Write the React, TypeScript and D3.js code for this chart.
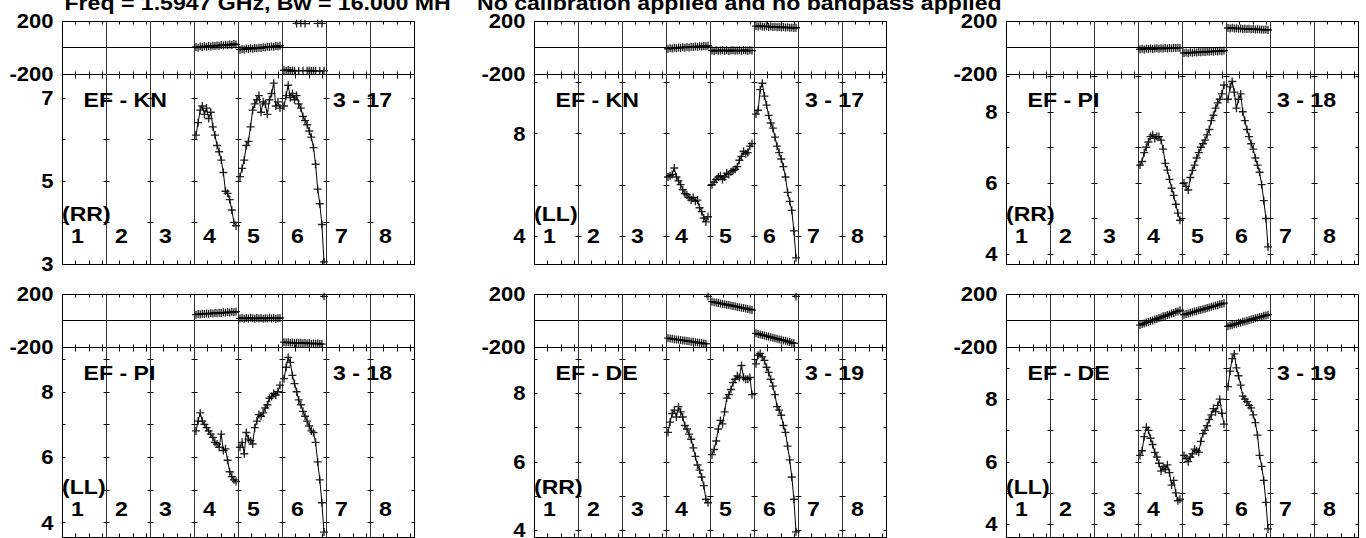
import React from "react";
import * as d3 from "d3";

// ---------- text ----------
const TITLE_LEFT = "Freq = 1.5947 GHz, Bw = 16.000 MH";
const TITLE_RIGHT = "No calibration applied and no bandpass applied";
const IF_LABELS = ["1", "2", "3", "4", "5", "6", "7", "8"];
const DATA_IFS = [3, 4, 5]; // IFs 4,5,6 carry data
const BASELINES = ["EF - KN", "EF - KN", "EF - PI", "EF - PI", "EF - DE", "EF - DE"];
const POLS = ["(RR)", "(LL)", "(RR)", "(LL)", "(RR)", "(LL)"];
const ANT_PAIRS = ["3 - 17", "3 - 17", "3 - 18", "3 - 18", "3 - 19", "3 - 19"];
const PHASE_DOMAIN = [-200, 200];
const PHASE_TICK_LABELS = [200, -200];
const AMP_DOMAINS = [
  [3, 7.57],
  [2.91, 10.31],
  [3.72, 9.06],
  [3.55, 9.37],
  [3.8, 9.34],
  [3.59, 9.67],
];
const AMP_TICKS = [
  [3, 4, 5, 6, 7],
  [4, 6, 8, 10],
  [4, 5, 6, 7, 8, 9],
  [4, 5, 6, 7, 8, 9],
  [4, 5, 6, 7, 8, 9],
  [4, 5, 6, 7, 8, 9],
];
const AMP_TICK_LABELS = [
  [3, 5, 7],
  [4, 8],
  [4, 6, 8],
  [4, 6, 8],
  [4, 6, 8],
  [4, 6, 8],
];

// ---------- amplitudes (per IF 4,5,6) ----------
const ampKnRR = [
  [6.1, 6.4, 6.7, 6.8, 6.6, 6.75, 6.5, 6.65, 6.3, 6.1, 5.85, 5.7, 5.5, 5.2, 4.75, 4.7, 4.55, 4.3, 4.0, 3.92],
  [5.1, 5.3, 5.5, 5.85, 5.95, 6.3, 6.7, 6.85, 6.95, 7.05, 6.65, 6.9, 6.85, 6.6, 6.95, 7.1, 7.35, 6.8, 6.9, 6.75],
  [6.8, 7.05, 7.3, 7.0, 7.1, 6.95, 7.05, 6.85, 6.75, 6.55, 6.45, 6.35, 6.2, 6.05, 5.8, 5.4, 4.8, 4.45, 3.95, 3.05],
];
const ampKnLL = [
  [6.3, 6.35, 6.4, 6.65, 6.3, 6.15, 6.0, 5.8, 5.65, 5.6, 5.5, 5.4, 5.5, 5.35, 5.4, 5.1, 4.95, 4.7, 4.55, 4.75],
  [6.0, 6.1, 6.2, 6.3, 6.35, 6.2, 6.3, 6.45, 6.4, 6.5, 6.55, 6.6, 6.7, 6.95, 7.1, 7.3, 7.2, 7.25, 7.5, 7.6],
  [8.75, 8.9, 9.7, 9.95, 9.45, 9.1, 8.7, 8.4, 8.2, 7.85, 7.5, 7.25, 7.0, 6.7, 6.3, 5.7, 5.35, 5.0, 4.2, 3.15],
];
const ampPiRR = [
  [6.5, 6.6, 6.85, 7.0, 7.15, 7.3, 7.35, 7.25, 7.3, 7.3, 7.2, 6.95, 6.55, 6.36, 6.1, 5.85, 5.65, 5.4, 5.15, 4.95],
  [6.0, 5.9, 5.8, 6.15, 6.35, 6.5, 6.7, 6.85, 7.0, 7.1, 7.2, 7.35, 7.5, 7.75, 7.9, 8.1, 8.25, 8.35, 8.5, 8.75],
  [8.35, 8.7, 8.85, 8.55, 8.1, 8.35, 8.5, 8.0, 7.75, 7.5, 7.3, 7.1, 6.95, 6.7, 6.5, 6.3, 5.95, 5.5, 5.0, 4.2],
];
const ampPiLL = [
  [6.8, 7.1, 7.35, 7.1, 7.0, 6.9, 6.8, 6.7, 6.6, 6.45, 6.4, 6.3, 6.7, 6.2, 6.25, 5.9, 5.55, 5.4, 5.3, 5.25],
  [6.3, 6.45, 6.1, 6.75, 6.55, 6.5, 6.4, 6.9, 7.1, 7.3, 7.25, 7.35, 7.5, 7.6, 7.8, 7.85, 7.95, 7.9, 8.0, 8.2],
  [8.4, 8.75, 9.05, 8.9, 8.5, 8.25, 8.0, 7.75, 7.6, 7.4, 7.25, 7.1, 6.95, 6.8, 6.75, 6.45, 5.85, 5.3, 4.6, 3.7],
];
const ampDeRR = [
  [6.85, 7.15, 7.4, 7.5, 7.3, 7.6, 7.45, 7.3, 7.05, 6.95, 6.8, 6.65, 6.4, 6.15, 5.9, 5.75, 5.55, 5.3, 4.9, 4.8],
  [6.2, 6.35, 6.6, 6.95, 7.2, 7.1, 7.45, 7.85, 7.95, 8.1, 8.3, 8.4, 8.5, 8.45, 8.8, 8.45, 8.4, 8.4, 8.45, 7.95],
  [8.85, 9.1, 9.15, 9.05, 8.95, 8.75, 8.6, 8.4, 8.2, 7.95, 7.6, 7.5, 7.35, 7.05, 6.85, 6.45, 6.05, 5.55, 4.9, 3.95],
];
const ampDeLL = [
  [6.2, 6.35, 6.8, 7.1, 7.0, 6.75, 6.55, 6.3, 6.15, 5.95, 5.7, 5.85, 5.75, 5.9, 5.65, 5.25, 5.4, 5.0, 4.75, 4.8],
  [6.2, 6.1, 6.0, 6.15, 6.25, 6.4, 6.35, 6.3, 6.65, 6.9, 7.0, 7.15, 7.35, 7.5, 7.7, 7.6, 7.8, 8.0, 7.55, 7.2],
  [8.4, 8.9, 9.3, 9.45, 9.0, 8.75, 8.45, 8.1, 8.0, 7.92, 7.8, 7.72, 7.5, 7.25, 6.85, 6.2, 5.85, 5.4, 4.7, 3.85],
];

// ---------- phases in degrees (per IF 4,5,6) ----------
const phsKnRR = [
  [2, -3, 5, 1, 8, 4, 10, 6, 12, 9, 14, 11, 16, 13, 18, 15, 21, 17, 24, 20],
  [-18, -14, -16, -10, -13, -8, -11, -5, -7, -3, -6, 0, -2, 3, 1, 6, 4, 9, 7, 11],
  [-172, -175, -170, -178, -174, -176, 178, -177, 179, -175, 177, -176, -173, -178, -175, -177, 179, -178, 178, -176],
];
const phsKnLL = [
  [-11, -7, -9, -4, -8, -2, -5, 0, -3, 2, -1, 4, 1, 6, 3, 8, 5, 10, 7, 11],
  [-24, -28, -22, -27, -25, -21, -26, -23, -28, -24, -22, -27, -25, -23, -26, -21, -24, -27, -23, -25],
  [158, 155, 160, 156, 154, 157, 152, 155, 151, 153, 150, 152, 148, 151, 147, 149, 146, 148, 144, 146],
];
const phsPiRR = [
  [-15, -12, -16, -11, -13, -9, -14, -10, -8, -12, -7, -10, -6, -9, -5, -8, -4, -6, -3, -5],
  [-43, -40, -44, -38, -41, -37, -39, -35, -38, -33, -36, -32, -34, -30, -33, -28, -31, -27, -29, -25],
  [144, 141, 145, 140, 142, 139, 141, 137, 139, 136, 138, 135, 136, 133, 135, 132, 133, 130, 132, 129],
];
const phsPiLL = [
  [42, 46, 44, 48, 46, 51, 48, 53, 50, 55, 52, 57, 54, 59, 56, 61, 58, 63, 60, 64],
  [14, 17, 12, 16, 13, 18, 15, 11, 16, 14, 17, 12, 15, 13, 18, 14, 16, 12, 15, 17],
  [-164, -167, -165, -169, -166, -170, -168, -171, -169, -172, -170, -174, -171, -175, -173, -176, -174, -177, -178, 179],
];
const phsDeRR = [
  [-134, -137, -138, -142, -143, -146, -147, -151, -152, -155, -157, -160, -161, -164, -166, -169, -170, -174, -176, 179],
  [139, 135, 133, 129, 126, 123, 120, 116, 114, 110, 107, 104, 100, 98, 94, 91, 88, 84, 81, 77],
  [-98, -103, -106, -111, -114, -119, -122, -127, -130, -135, -138, -143, -146, -151, -154, -159, -163, -168, -172, 178],
];
const phsDeLL = [
  [-36, -28, -25, -16, -13, -5, -2, 6, 10, 17, 21, 29, 32, 40, 43, 51, 55, 63, 66, 75],
  [41, 47, 50, 56, 59, 65, 68, 74, 77, 83, 86, 92, 95, 101, 104, 110, 113, 119, 122, 128],
  [-45, -39, -36, -30, -27, -21, -18, -12, -9, -3, 0, 6, 9, 15, 18, 24, 27, 33, 36, 42],
];

const AMPS = [ampKnRR, ampKnLL, ampPiRR, ampPiLL, ampDeRR, ampDeLL];
const PHASES = [phsKnRR, phsKnLL, phsPiRR, phsPiLL, phsDeRR, phsDeLL];

// ---------- layout ----------
const W = 1366;
const H = 538;
const COL_LEFT = [62, 534, 1006];
const PANEL_W = 352;
const ROW_TOP = [20.5, 293.5];
const PHASE_H = 53.5;
const AMP_H = 190;
const FONT = "'Liberation Sans', Arial, Helvetica, sans-serif";
const SX = 1.1;
const CROSS = 4;

const crisp = (v: number) => Math.round(v) + 0.5;

function Txt({ x, y, size, anchor = "start", children }: any) {
  return (
    <text
      transform={`translate(${x},${y}) scale(${SX},1)`}
      fontFamily={FONT}
      fontWeight="bold"
      fontSize={size}
      textAnchor={anchor}
      fill="#000"
    >
      {children}
    </text>
  );
}

function Cross({ x, y }: { x: number; y: number }) {
  return (
    <path
      d={`M${x - CROSS},${y}H${x + CROSS}M${x},${y - CROSS}V${y + CROSS}`}
      stroke="#000"
      strokeOpacity={0.85}
      strokeWidth={1.35}
    />
  );
}

function Panel({ idx }: { idx: number }) {
  const col = idx % 3;
  const row = Math.floor(idx / 3);
  const left = COL_LEFT[col];
  const right = left + PANEL_W;
  const pTop = ROW_TOP[row];
  const pBot = pTop + PHASE_H;
  const aBot = pBot + AMP_H;

  const xIF = d3.scaleLinear().domain([0, 8]).range([left, right]);
  const ifW = xIF(1) - xIF(0);
  const nChan = AMPS[idx][0].length;
  const xChan = d3.scaleLinear().domain([0, nChan - 1]).range([2, 42]);
  const xTick = d3.scaleLinear().domain([0, 33]).range([0, ifW]);
  const yP = d3.scaleLinear().domain(PHASE_DOMAIN).range([pBot, pTop]);
  const yA = d3.scaleLinear().domain(AMP_DOMAINS[idx]).range([aBot, pBot]);

  const clipId = `clip${idx}`;
  const lineGen = d3
    .line<[number, number]>()
    .x((d) => d[0])
    .y((d) => d[1]);

  const vLines = d3.range(0, 9).map((k) => crisp(xIF(k)));
  const minorX: number[] = [];
  d3.range(0, 8).forEach((k) => {
    [10, 20, 30].forEach((t) => minorX.push(crisp(xIF(k) + xTick(t))));
  });

  const ampPaths: string[] = [];
  const ampPts: [number, number][] = [];
  const phsPaths: string[] = [];
  const phsPts: [number, number][] = [];
  DATA_IFS.forEach((ifIdx, j) => {
    const amps = AMPS[idx][j];
    const pts: [number, number][] = amps.map((a, c) => [xIF(ifIdx) + xChan(c), yA(a)]);
    ampPaths.push(lineGen(pts) || "");
    pts.forEach((p) => ampPts.push(p));

    const phs = PHASES[idx][j];
    let seg: [number, number][] = [];
    phs.forEach((p, c) => {
      const pt: [number, number] = [xIF(ifIdx) + xChan(c), yP(p)];
      if (c > 0 && Math.abs(p - phs[c - 1]) > 180) {
        if (seg.length > 1) phsPaths.push(lineGen(seg) || "");
        seg = [];
      }
      seg.push(pt);
      phsPts.push(pt);
    });
    if (seg.length > 1) phsPaths.push(lineGen(seg) || "");
  });

  const ln = "#000";
  return (
    <g>
      <defs>
        <clipPath id={clipId}>
          <rect x={left} y={pBot} width={PANEL_W} height={aBot - pBot} />
        </clipPath>
        <clipPath id={clipId + "p"}>
          <rect x={left} y={pTop - 1} width={PANEL_W} height={PHASE_H + 2} />
        </clipPath>
      </defs>
      {/* horizontal frame lines */}
      <line x1={left} x2={right + 1} y1={crisp(pTop)} y2={crisp(pTop)} stroke={ln} />
      <line x1={left} x2={right + 1} y1={crisp(yP(0))} y2={crisp(yP(0))} stroke={ln} />
      <line x1={left} x2={right + 1} y1={crisp(pBot)} y2={crisp(pBot)} stroke={ln} />
      <line x1={left} x2={right + 1} y1={crisp(aBot)} y2={crisp(aBot)} stroke={ln} />
      {/* IF separators */}
      {vLines.map((x, i) => (
        <line key={"v" + i} x1={x} x2={x} y1={crisp(pTop)} y2={crisp(aBot)} stroke={ln} strokeOpacity={i === 0 || i === 8 ? 1 : 0.8} />
      ))}
      {/* x minor ticks */}
      {minorX.map((x, i) => (
        <g key={"t" + i}>
          <line x1={x} x2={x} y1={crisp(pTop)} y2={crisp(pTop) + 3} stroke={ln} />
          <line x1={x} x2={x} y1={crisp(pBot) - 3} y2={crisp(pBot) + 4} stroke={ln} />
          <line x1={x} x2={x} y1={crisp(aBot) - 4} y2={crisp(aBot)} stroke={ln} />
        </g>
      ))}
      {/* amplitude y ticks */}
      {AMP_TICKS[idx].map((v, i) => {
        const y = crisp(yA(v));
        return (
          <g key={"y" + i}>
            {vLines.map((x, k) => (
              <line
                key={k}
                x1={k === 0 ? x : x - 3}
                x2={k === 8 ? x : x + 3}
                y1={y}
                y2={y}
                stroke={ln}
              />
            ))}
          </g>
        );
      })}
      {/* phase data */}
      <g clipPath={`url(#${clipId}p)`}>
        {phsPaths.map((d, i) => (
          <path key={"pp" + i} d={d} fill="none" stroke="#000" strokeWidth={1} />
        ))}
        {phsPts.map((p, i) => (
          <Cross key={"pc" + i} x={p[0]} y={p[1]} />
        ))}
      </g>
      {/* amplitude data */}
      <g clipPath={`url(#${clipId})`}>
        {ampPaths.map((d, i) => (
          <path key={"ap" + i} d={d} fill="none" stroke="#000" strokeWidth={1} />
        ))}
        {ampPts.map((p, i) => (
          <Cross key={"ac" + i} x={p[0]} y={p[1]} />
        ))}
      </g>
      {/* axis labels */}
      {PHASE_TICK_LABELS.map((v, i) => (
        <Txt key={"pl" + i} x={left - 8.5} y={yP(v) + 7.2} size={20} anchor="end">
          {String(v)}
        </Txt>
      ))}
      {AMP_TICK_LABELS[idx].map((v, i) => (
        <Txt key={"al" + i} x={left - 8.5} y={yA(v) + 7.2} size={20} anchor="end">
          {String(v)}
        </Txt>
      ))}
      {/* panel annotations */}
      <Txt x={left + 21.5} y={pBot + 33} size={21}>
        {BASELINES[idx]}
      </Txt>
      <Txt x={left + 271} y={pBot + 33} size={21}>
        {ANT_PAIRS[idx]}
      </Txt>
      <Txt x={left} y={pBot + 146.5} size={21}>
        {POLS[idx]}
      </Txt>
      {IF_LABELS.map((s, k) => (
        <Txt key={"if" + k} x={xIF(k) + 15.5} y={pBot + 169} size={21} anchor="middle">
          {s}
        </Txt>
      ))}
    </g>
  );
}

export default function App() {
  return (
    <svg
      width={W}
      height={H}
      style={{ position: "absolute", left: 0, top: 0, background: "#fff" }}
    >
      <rect x={0} y={0} width={W} height={H} fill="#fff" />
      <Txt x={64.5} y={9.5} size={21}>
        {TITLE_LEFT}
      </Txt>
      <Txt x={477} y={9.5} size={21}>
        {TITLE_RIGHT}
      </Txt>
      {d3.range(0, 6).map((i) => (
        <Panel key={i} idx={i} />
      ))}
    </svg>
  );
}
